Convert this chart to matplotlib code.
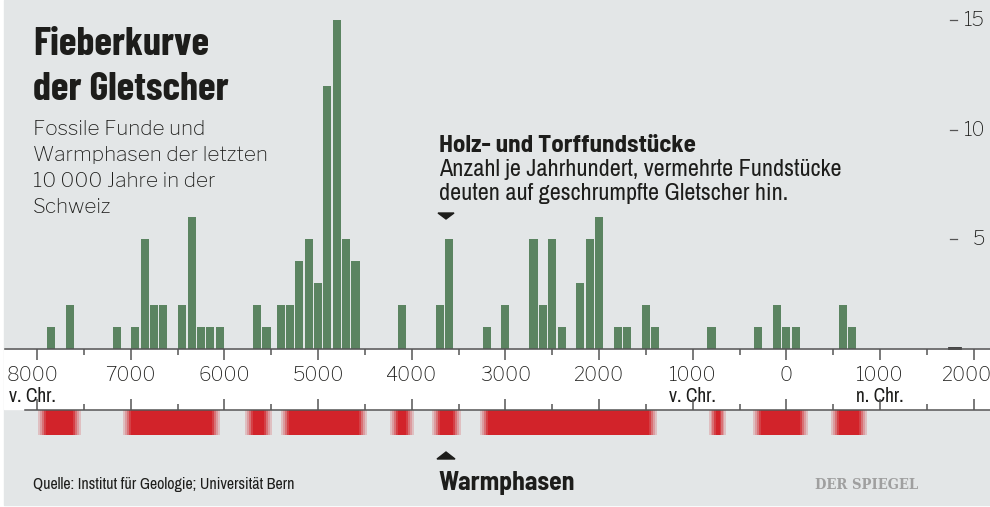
import matplotlib
matplotlib.use("Agg")
import matplotlib.pyplot as plt
from matplotlib.patches import Rectangle, Polygon
from matplotlib.ticker import MultipleLocator
from matplotlib.font_manager import FontProperties
import matplotlib.transforms as mtransforms

# Funde je Jahrhundert (Mitte des Jahrhunderts, negativ = v. Chr.)
years = [-7850, -7650, -7150, -6950, -6850, -6750, -6650, -6450, -6350, -6250,
         -6150, -6050, -5650, -5550, -5400, -5300, -5200, -5100, -5000, -4900,
         -4800, -4700, -4600, -4100, -3700, -3600, -3200, -3000, -2700, -2600,
         -2500, -2400, -2200, -2100, -2000, -1800, -1700, -1500, -1400, -800,
         -300, -100, 0, 100, 600, 700]
counts = [1, 2, 1, 1, 5, 2, 2, 2, 6, 1,
          1, 1, 2, 1, 2, 2, 4, 5, 3, 12,
          15, 5, 4, 2, 2, 5, 1, 2, 5, 2,
          5, 1, 3, 5, 6, 1, 1, 2, 1, 1,
          1, 2, 1, 1, 2, 1]

# Warmphasen (Beginn, Ende)
warm_start = [-7990, -7080, -5780, -5395, -4230, -3785, -3270, -825, -355, 475]
warm_end = [-7530, -6050, -5490, -4480, -3975, -3475, -1380, -645, 230, 860]

xticks = [-8000, -7000, -6000, -5000, -4000, -3000, -2000, -1000, 0, 1000, 2000]
xlabels = ["8000", "7000", "6000", "5000", "4000", "3000", "2000",
           "1000", "0", "1000", "2000"]
era_pos = [-8000, -1000, 1000]
era_labels = ["v. Chr.", "v. Chr.", "n. Chr."]
yticks = [5, 10, 15]

W, H = 990, 507
BG = "#e3e6e7"
GREEN = "#5b8461"
RED = "#d2232a"
INK = "#1d1d1b"
AXC = "#555555"
REG = ["Libre Franklin", "Liberation Sans"]
NARROW = ["Archivo Narrow", "DejaVu Sans"]
HEAD = ["Barlow Condensed", "DejaVu Sans"]
SEMI = ["Barlow Semi Condensed", "Barlow Condensed"]

# Zeitachse in Pixeln: -8000 liegt bei x=37, 0.09368 px je Jahr
PX0, PXK = 37.0, 0.09368


def yr(px):
    return -8000 + (px - PX0) / PXK


def fx(px):
    return px / W


def fy(py):
    return 1 - py / H


def shift(px):
    return mtransforms.ScaledTranslation(px / 100, 0, fig.dpi_scale_trans)


fig = plt.figure(figsize=(W / 100, H / 100), dpi=100, facecolor="white")
fig.patches.append(Rectangle((fx(4), fy(505)), fx(986), 505 / H,
                             transform=fig.transFigure, color=BG, zorder=-5))
fig.patches.append(Rectangle((fx(4), fy(409)), fx(986), 59 / H,
                             transform=fig.transFigure, color="white", zorder=-4))

# Balken
base, unit = 349, 21.93
ax = fig.add_axes([fx(5), fy(base), fx(985), base / H])
ax.set_facecolor("none")
ax.bar(years, counts, width=86, color=GREEN, zorder=2)
ax.set_xlim(yr(5), yr(990))
ax.set_ylim(0, base / unit)
for s in ("top", "left", "right"):
    ax.spines[s].set_visible(False)
ax.spines["bottom"].set_color(AXC)
ax.spines["bottom"].set_linewidth(1.1)
ax.set_yticks([])
ax.set_xticks(xticks)
ax.set_xticklabels(xlabels, fontsize=14, family=REG, weight=500, color=INK)
ax.xaxis.set_minor_locator(MultipleLocator(500))
ax.tick_params(axis="x", which="major", length=8, width=1.1, color=AXC, pad=4)
ax.tick_params(axis="x", which="minor", length=4.3, width=1.1, color=AXC)

# Randbeschriftungen etwas nach innen ruecken
labs = ax.get_xticklabels()
labs[0].set_transform(labs[0].get_transform() + shift(-4))
labs[-1].set_transform(labs[-1].get_transform() + shift(-7))

trx = mtransforms.blended_transform_factory(ax.transData, fig.transFigure)
for p, lab in zip(era_pos, era_labels):
    t = ax.text(p, fy(402), lab, transform=trx, ha="center", va="baseline",
                fontsize=14, family=NARROW, color=INK)
    if p == era_pos[0]:
        t.set_transform(trx + shift(-5))

# rechte Skala
tr = mtransforms.blended_transform_factory(fig.transFigure, ax.transData)
for v in yticks:
    ax.plot([fx(950), fx(957)], [v, v], transform=tr, color=AXC, lw=0.9,
            clip_on=False)
    ax.text(fx(985), v, str(v), transform=tr, ha="right", va="center",
            fontsize=14, family=REG, weight=500, color=INK)
ax.plot([fx(949), fx(960)], [0.05, 0.05], transform=tr, color="#333333", lw=2,
        clip_on=False)

# Warmphasen-Band
ax2 = fig.add_axes([fx(25), fy(435), fx(965), 25 / H])
ax2.set_facecolor("none")
ax2.set_xlim(yr(25), yr(990))
ax2.set_ylim(0, 1)
for s in ("bottom", "left", "right"):
    ax2.spines[s].set_visible(False)
ax2.spines["top"].set_color(AXC)
ax2.spines["top"].set_linewidth(1.1)
ax2.set_yticks([])
ax2.set_xticks(xticks)
ax2.xaxis.set_minor_locator(MultipleLocator(500))
ax2.xaxis.set_ticks_position("top")
ax2.tick_params(axis="x", which="major", length=8, width=1.1, color=AXC,
                labeltop=False, labelbottom=False)
ax2.tick_params(axis="x", which="minor", length=4.3, width=1.1, color=AXC)

fade_alpha = [0.2, 0.38, 0.6, 0.85]
for a, b in zip(warm_start, warm_end):
    f = min(85, (b - a) / 2.6)
    step = f / len(fade_alpha)
    ax2.add_patch(Rectangle((a + f, 0), b - a - 2 * f, 1, color=RED, lw=0))
    for i, al in enumerate(fade_alpha):
        ax2.add_patch(Rectangle((a + i * step, 0), step, 1, color=RED, alpha=al, lw=0))
        ax2.add_patch(Rectangle((b - (i + 1) * step, 0), step, 1, color=RED, alpha=al, lw=0))

# Texte
fig.text(fx(33), fy(55), "Fieberkurve", fontsize=29, family=HEAD, weight="bold",
         color=INK, va="baseline")
fig.text(fx(33), fy(100), "der Gletscher", fontsize=29, family=HEAD, weight="bold",
         color=INK, va="baseline")
sub = ["Fossile Funde und", "Warmphasen der letzten", "10\u2009000 Jahre in der", "Schweiz"]
for i, line in enumerate(sub):
    fig.text(fx(33), fy(135 + 26 * i), line, fontsize=15, family=REG, weight=500,
             color=INK, va="baseline")

fig.text(fx(439), fy(152), "Holz- und Torffundstücke", fontsize=18, family=SEMI,
         weight="bold", color=INK, va="baseline")
fig.text(fx(439), fy(176), "Anzahl je Jahrhundert, vermehrte Fundstücke",
         fontsize=17.4, family=NARROW, color=INK, va="baseline")
fig.text(fx(439), fy(200), "deuten auf geschrumpfte Gletscher hin.",
         fontsize=17.4, family=NARROW, color=INK, va="baseline")
fig.patches.append(Polygon([(fx(438), fy(213)), (fx(454), fy(213)), (fx(446), fy(219))],
                           closed=True, transform=fig.transFigure, color=INK))

fig.patches.append(Polygon([(fx(437), fy(459)), (fx(455), fy(459)), (fx(446), fy(452))],
                           closed=True, transform=fig.transFigure, color=INK))
fig.text(fx(438), fy(490), "Warmphasen", fontsize=18.5, family=SEMI, weight="bold",
         color=INK, va="baseline")
fig.text(fx(33), fy(489), "Quelle: Institut für Geologie; Universität Bern",
         fontsize=11.5, family=NARROW, color=INK, va="baseline")
logo = FontProperties(family="DejaVu Serif", weight="bold", stretch="condensed", size=10.5)
fig.text(fx(815), fy(489), "DER SPIEGEL", fontproperties=logo,
         color="#9f9f9f", va="baseline")

fig.savefig("out.png", dpi=100, facecolor="white")
